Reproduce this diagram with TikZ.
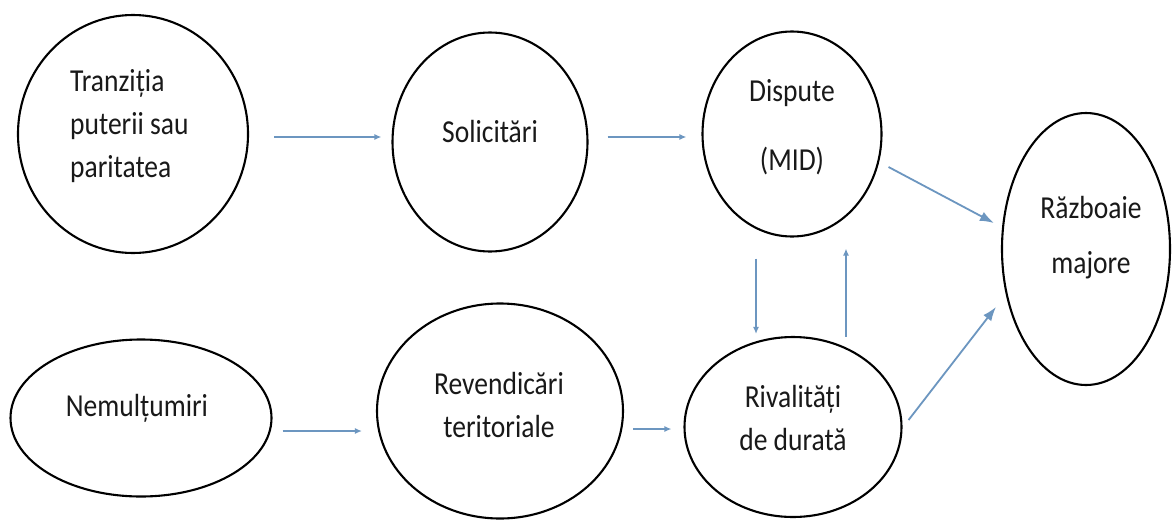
\documentclass[tikz,border=0pt]{standalone}
\usepackage{fontspec}
\setmainfont{Carlito}[FakeStretch=0.86]
\usetikzlibrary{shapes.geometric,arrows.meta}
\definecolor{arrblue}{RGB}{108,150,192}
\begin{document}
\begin{tikzpicture}[x=1pt,y=-1pt,
  bubble/.style={draw=black,line width=2.1pt,ellipse,inner sep=0pt},
  lbl/.style={inner sep=0pt,font=\fontsize{32}{43}\selectfont,text=black!90},
  arr/.style={draw=arrblue,line width=1.6pt,-{Latex[length=7pt,width=6pt]}},
  bigarr/.style={draw=arrblue,line width=1.8pt,-{Latex[length=14pt,width=10pt]}}]
\useasboundingbox[fill=white] (0,0) rectangle (1173,520);
% ellipses
\node[bubble,minimum width=230pt,minimum height=238pt] (tr) at (133,134) {};
\node[bubble,minimum width=195pt,minimum height=219pt] (so) at (490,142) {};
\node[bubble,minimum width=179pt,minimum height=205pt] (di) at (792,134) {};
\node[bubble,minimum width=168pt,minimum height=272pt] (ra) at (1086,249) {};
\node[bubble,minimum width=261pt,minimum height=157pt] (ne) at (141,418) {};
\node[bubble,minimum width=246pt,minimum height=215pt] (re) at (500,411) {};
\node[bubble,minimum width=217pt,minimum height=180pt] (ri) at (793,427) {};
% labels
\node[lbl,align=left,anchor=west] (trt) at (70,126) {Tranziția\\puterii sau\\paritatea};
\node[lbl] (sot) at (490,132) {Solicitări};
\node[lbl,align=center] (dit) at (792,127) {Dispute\\[26pt](MID)};
\node[lbl,align=center] (rat) at (1091,238) {Războaie\\[12pt]majore};
\node[lbl] (net) at (137,408) {Nemulțumiri};
\node[lbl,align=center] (ret) at (499,405) {Revendicări\\teritoriale};
\node[lbl,align=center] (rit) at (793,418) {Rivalități\\de durată};
% connectors
\draw[arr] ([xshift=25pt,yshift=-3pt]tr.east) -- ([xshift=-10pt,yshift=5pt]so.west);
\draw[arr] ([xshift=19pt,yshift=5pt]so.east) -- ([xshift=-15pt,yshift=-3pt]di.west);
\draw[arr] ([xshift=10pt,yshift=-13pt]ne.east) -- ([xshift=-14pt,yshift=-20pt]re.west);
\draw[arr] ([xshift=9pt,yshift=-18pt]re.east) -- ([xshift=-12pt,yshift=-2pt]ri.west);
\draw[arr] ([xshift=-36pt,yshift=-21pt]di.south) -- ([xshift=-37pt,yshift=2pt]ri.north);
\draw[arr] ([xshift=53pt,yshift=-1pt]ri.north) -- ([xshift=54pt,yshift=-11pt]di.south);
\draw[bigarr] ([xshift=6pt,yshift=-33pt]di.east) -- ([xshift=-7pt,yshift=26pt]ra.west);
\draw[bigarr] ([xshift=6pt,yshift=7pt]ri.east) -- ([xshift=-5pt,yshift=-58pt]ra.west);
\end{tikzpicture}
\end{document}
